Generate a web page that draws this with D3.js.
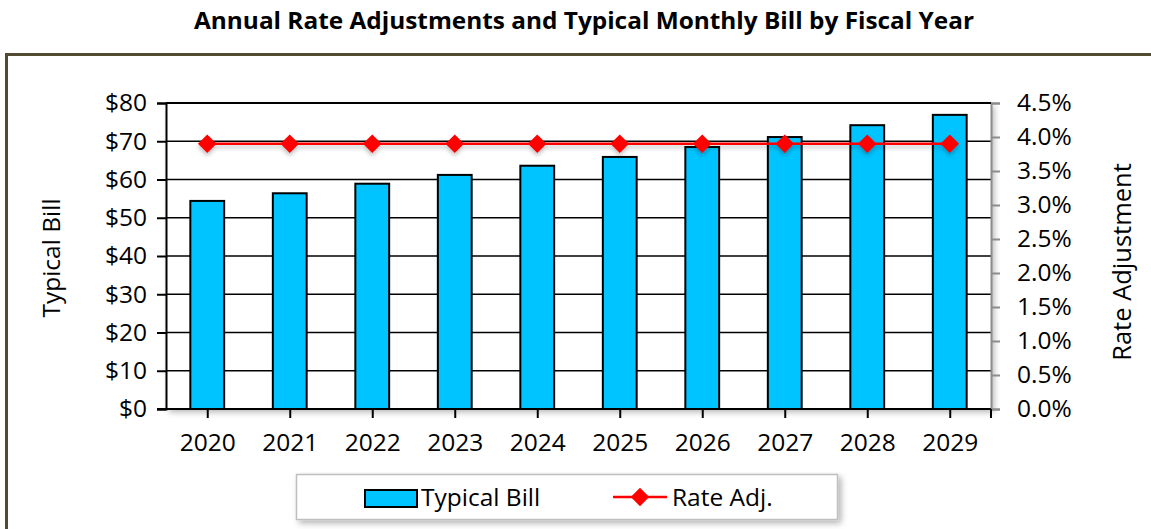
<!DOCTYPE html>
<html>
<head>
<meta charset="utf-8">
<script src="https://cdn.jsdelivr.net/npm/d3@7"></script>
<style>
  body { margin: 0; background: #fff; }
  svg text { font-family: "Open Sans", "Liberation Sans", sans-serif; fill: #000; }
</style>
</head>
<body>
<svg id="chart"></svg>
<script>
const years = ["2020", "2021", "2022", "2023", "2024", "2025", "2026", "2027", "2028", "2029"];
const typicalBill = [54.4, 56.4, 58.9, 61.2, 63.6, 65.9, 68.5, 71.1, 74.2, 76.9];
const rateAdj = [3.9, 3.9, 3.9, 3.9, 3.9, 3.9, 3.9, 3.9, 3.9, 3.9];
const billTicks = [0, 10, 20, 30, 40, 50, 60, 70, 80];
const rateTicks = [0, 0.5, 1, 1.5, 2, 2.5, 3, 3.5, 4, 4.5];

let width = 1151, height = 529;
let plot = {left: 166, right: 991, top: 103, bottom: 409};
let fs = 24.5; // label font size

let svg = d3.select("#chart").attr("width", width).attr("height", height);

let defs = svg.append("defs");
let sh = defs.append("filter").attr("id", "shadow")
    .attr("x", "-5%").attr("y", "-5%").attr("width", "115%").attr("height", "125%");
sh.append("feDropShadow").attr("dx", 3).attr("dy", 3).attr("stdDeviation", 3)
    .attr("flood-color", "#000").attr("flood-opacity", 0.3);
let lsh = defs.append("filter").attr("id", "lshadow")
    .attr("x", "-5%").attr("y", "-50%").attr("width", "110%").attr("height", "300%");
lsh.append("feDropShadow").attr("dx", 0).attr("dy", 3).attr("stdDeviation", 2)
    .attr("flood-color", "#000").attr("flood-opacity", 0.25);

// title
svg.append("text")
    .attr("x", 584).attr("y", 29)
    .attr("text-anchor", "middle")
    .attr("font-size", 24).attr("font-weight", "bold")
    .attr("textLength", 780).attr("lengthAdjust", "spacingAndGlyphs")
    .text("Annual Rate Adjustments and Typical Monthly Bill by Fiscal Year");

// outer frame
svg.append("path")
    .attr("d", "M6.5,545 L6.5,54.5 L1160,54.5")
    .attr("fill", "none").attr("stroke", "#504b31").attr("stroke-width", 3);

let x = d3.scaleBand().domain(years).range([plot.left, plot.right]).paddingInner(0.59).paddingOuter(0.295);
let xTick = d3.scalePoint().domain(years).range([plot.left, plot.right]).padding(0.5);
let yL = d3.scaleLinear().domain([0, 80]).range([plot.bottom, plot.top]);
let yR = d3.scaleLinear().domain([0, 4.5]).range([plot.bottom, plot.top]);

// plot area background with shadow
svg.append("rect")
    .attr("x", plot.left).attr("y", plot.top)
    .attr("width", plot.right - plot.left).attr("height", plot.bottom - plot.top)
    .attr("fill", "#fff").attr("filter", "url(#shadow)");

// gridlines (left axis)
svg.append("g").selectAll("line").data(billTicks.filter(d => d > 0)).enter().append("line")
    .attr("x1", plot.left).attr("x2", plot.right)
    .attr("y1", d => yL(d)).attr("y2", d => yL(d))
    .attr("stroke", "#000").attr("stroke-width", 1.5);

// right axis (gray) with outward ticks
let rAxis = svg.append("g").attr("transform", `translate(${plot.right},0)`)
    .call(d3.axisRight(yR).tickValues(rateTicks).tickSize(9).tickFormat(d => d.toFixed(1) + "%"));
rAxis.select(".domain").attr("stroke", "#8c8c8c").attr("stroke-width", 2);
rAxis.selectAll(".tick line").attr("stroke", "#8c8c8c").attr("stroke-width", 2);
rAxis.selectAll(".tick text").attr("x", 26).attr("font-size", fs)
    .attr("font-family", "Open Sans").attr("fill", "#000");

// bars
svg.append("g").selectAll("rect").data(years).enter().append("rect")
    .attr("x", d => x(d)).attr("width", x.bandwidth())
    .attr("y", (d, i) => yL(typicalBill[i]))
    .attr("height", (d, i) => plot.bottom - yL(typicalBill[i]))
    .attr("fill", "#00c4ff").attr("stroke", "#000").attr("stroke-width", 2);

// top border of plot
svg.append("line")
    .attr("x1", plot.left).attr("x2", plot.right).attr("y1", plot.top).attr("y2", plot.top)
    .attr("stroke", "#000").attr("stroke-width", 2);

// left axis
let lAxis = svg.append("g").attr("transform", `translate(${plot.left},0)`)
    .call(d3.axisLeft(yL).tickValues(billTicks).tickSize(9).tickFormat(d => "$" + d));
lAxis.select(".domain").attr("stroke", "#000").attr("stroke-width", 2);
lAxis.selectAll(".tick line").attr("stroke", "#000").attr("stroke-width", 2);
lAxis.selectAll(".tick text").attr("x", -19).attr("font-size", fs)
    .attr("font-family", "Open Sans").attr("fill", "#000");

// bottom axis
let bAxis = svg.append("g").attr("transform", `translate(0,${plot.bottom})`)
    .call(d3.axisBottom(xTick).tickSize(9).tickSizeOuter(0));
bAxis.select(".domain").attr("d", `M${plot.left - 9},0H${plot.right}`)
    .attr("stroke", "#000").attr("stroke-width", 2);
bAxis.selectAll(".tick line").attr("stroke", "#000").attr("stroke-width", 2);
bAxis.append("line").attr("x1", plot.right).attr("x2", plot.right).attr("y1", 0).attr("y2", 9)
    .attr("stroke", "#000").attr("stroke-width", 2);
bAxis.selectAll(".tick text").attr("y", 25).attr("font-size", fs)
    .attr("font-family", "Open Sans").attr("fill", "#000");

// rate line
let line = d3.line().x((d, i) => xTick(years[i])).y(d => yR(d));
let diamond = d3.symbol().type(d3.symbolDiamond2).size(220);
let rg = svg.append("g").attr("filter", "url(#lshadow)");
rg.append("path").datum(rateAdj).attr("d", line)
    .attr("fill", "none").attr("stroke", "#ff0000").attr("stroke-width", 2.5);
rg.selectAll("path.pt").data(rateAdj).enter().append("path").attr("class", "pt")
    .attr("transform", (d, i) => `translate(${xTick(years[i])},${yR(d)})`)
    .attr("d", diamond).attr("fill", "#ff0000");

// axis titles
svg.append("text")
    .attr("transform", "translate(60,258) rotate(-90)")
    .attr("text-anchor", "middle").attr("font-size", fs)
    .text("Typical Bill");
svg.append("text")
    .attr("transform", "translate(1131,262) rotate(-90)")
    .attr("text-anchor", "middle").attr("font-size", 25.5)
    .text("Rate Adjustment");

// legend
let lg = svg.append("g");
lg.append("rect")
    .attr("x", 296.5).attr("y", 474.5).attr("width", 541).attr("height", 45)
    .attr("fill", "#fff").attr("stroke", "#bfbfbf").attr("stroke-width", 1.5)
    .attr("filter", "url(#shadow)");
lg.append("rect")
    .attr("x", 365).attr("y", 490).attr("width", 52).attr("height", 17)
    .attr("fill", "#00c4ff").attr("stroke", "#000").attr("stroke-width", 2);
lg.append("text").attr("x", 421).attr("y", 506).attr("font-size", fs).text("Typical Bill");
lg.append("line").attr("x1", 613).attr("x2", 667).attr("y1", 497).attr("y2", 497)
    .attr("stroke", "#ff0000").attr("stroke-width", 2.5);
lg.append("path").attr("transform", "translate(640,497)").attr("d", diamond).attr("fill", "#ff0000");
lg.append("text").attr("x", 672).attr("y", 506).attr("font-size", fs).text("Rate Adj.");
</script>
</body>
</html>
